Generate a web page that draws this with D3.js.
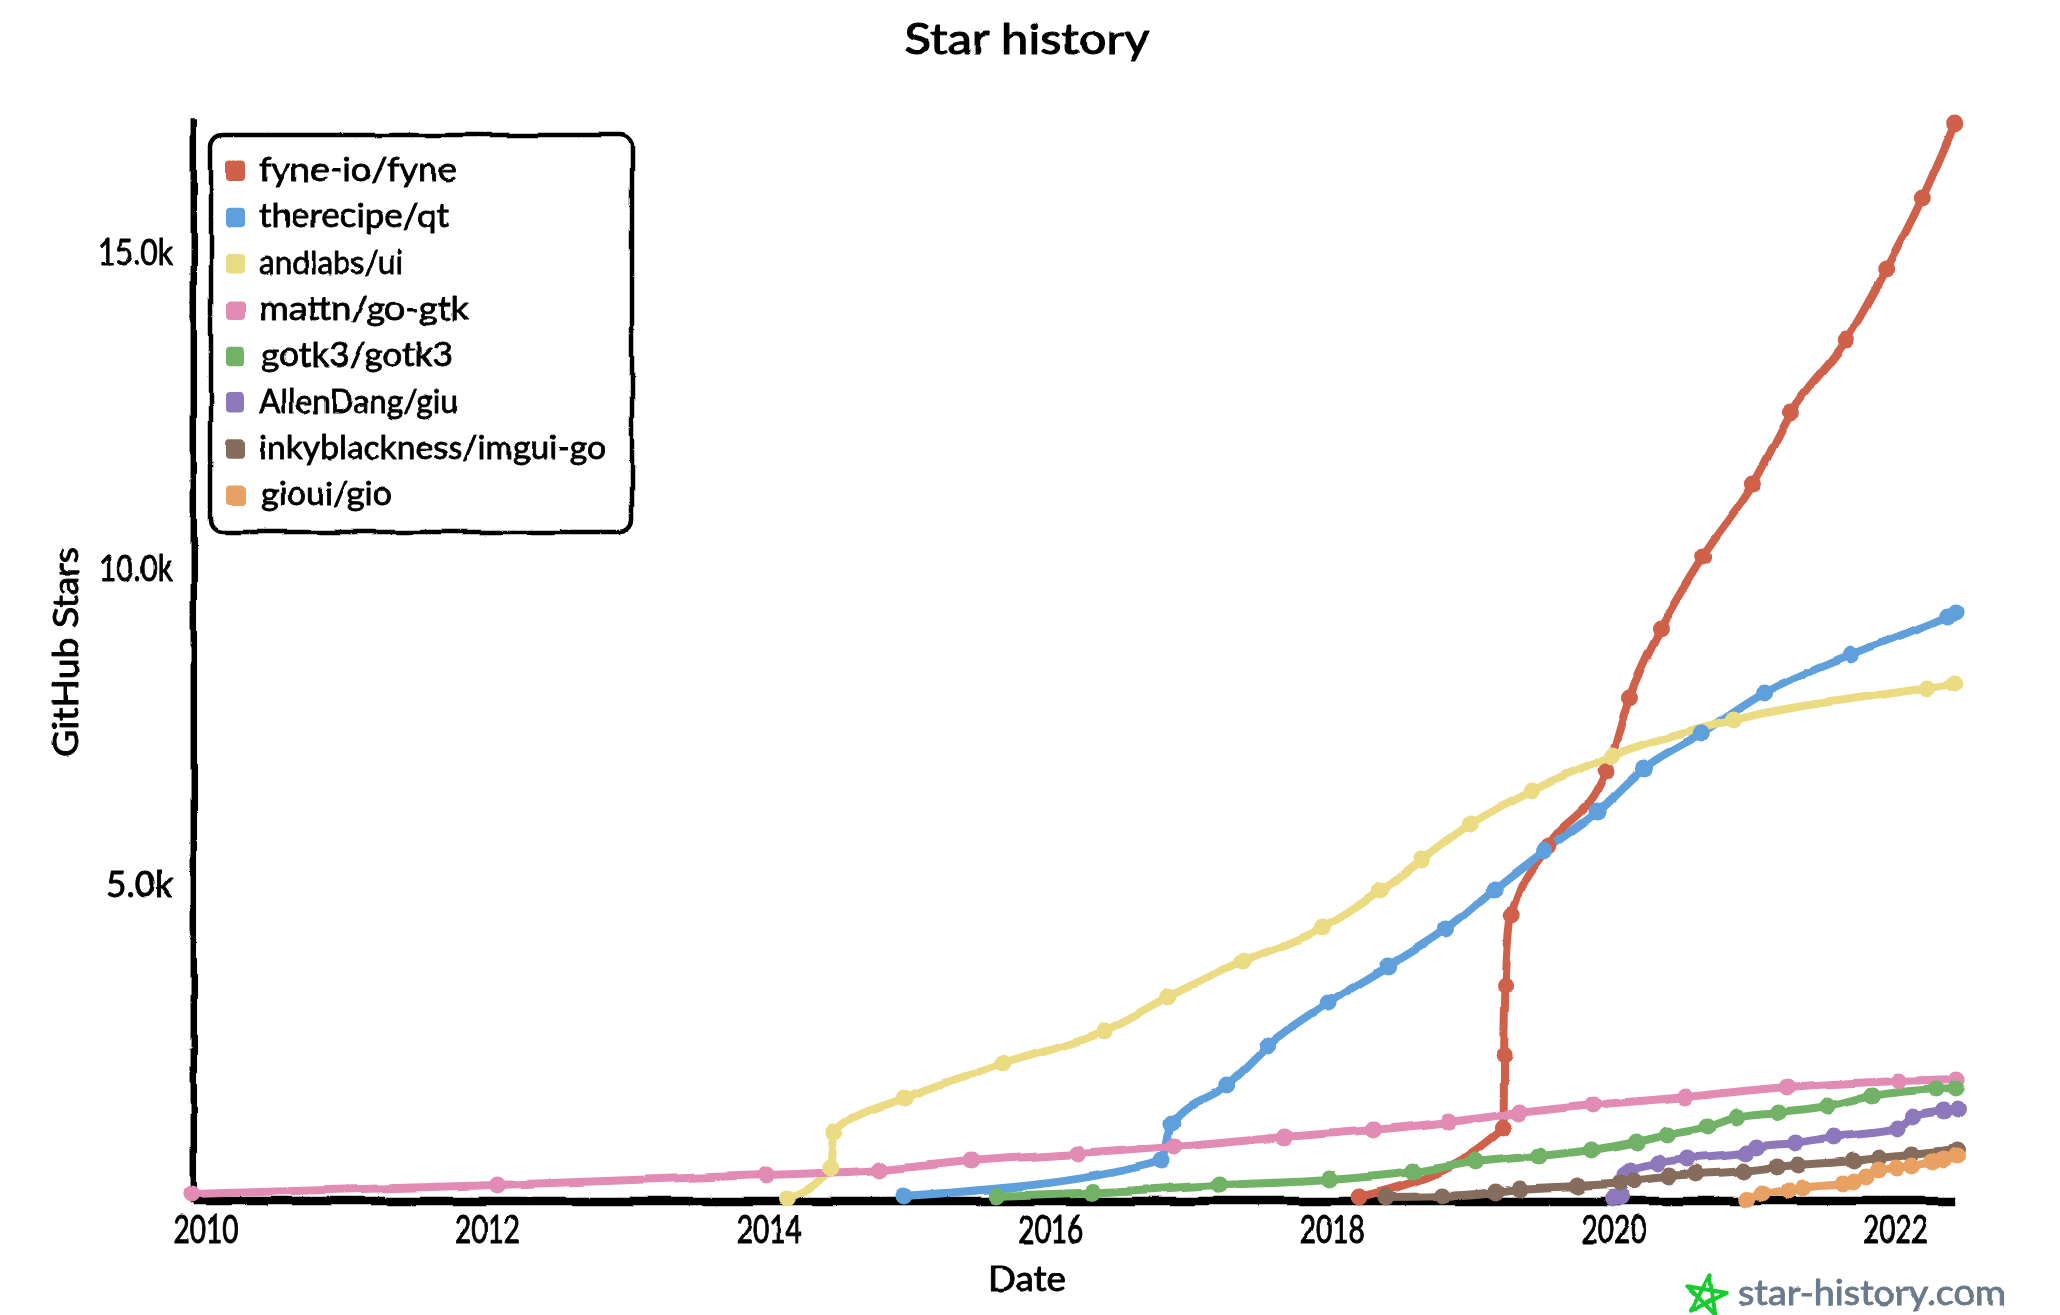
<!DOCTYPE html>
<html>
<head>
<meta charset="utf-8">
<title>Star history</title>
<script src="https://cdn.jsdelivr.net/npm/d3@7/dist/d3.min.js"></script>
<style>
html,body{margin:0;padding:0;background:#fff;}
svg{display:block;}
text{font-family:"Liberation Sans Narrow","Lato","Noto Sans",sans-serif;fill:#000;}
</style>
</head>
<body>
<div id="chart"></div>
<script>
// Data: [decimal year], [stars]
const fyneYears = [2018.19,2019.215,2019.22,2019.23,2019.27,2019.53,2019.95,2020.11,2020.33,2020.63,2020.99,2021.26,2021.65,2021.93,2022.19,2022.42];
const fyneStars = [40,1131,2271,3394,4486,5578,6780,7951,9027,10166,11321,12460,13600,14707,15847,17017];
const qtYears = [2014.95,2016.79,2016.86,2017.25,2017.54,2017.97,2018.40,2018.81,2019.15,2019.50,2019.88,2020.21,2020.62,2021.07,2021.68,2022.37,2022.43];
const qtStars = [55,609,1210,1812,2429,3109,3695,4280,4913,5514,6131,6812,7366,8014,8616,9233,9296];
const uiYears = [2014.13,2014.43,2014.46,2014.96,2015.66,2016.38,2016.83,2017.36,2017.93,2018.34,2018.64,2018.98,2019.42,2019.99,2020.85,2022.23,2022.42];
const uiStars = [24,498,1052,1606,2144,2666,3204,3758,4296,4881,5388,5941,6479,7017,7587,8093,8157];
const gtkYears = [2009.90,2012.07,2013.98,2014.79,2015.44,2016.19,2016.88,2017.66,2018.29,2018.83,2019.33,2019.86,2020.51,2021.23,2022.02,2022.43];
const gtkStars = [87,229,388,467,609,720,831,989,1100,1226,1369,1495,1622,1780,1875,1907];
const gotk3Years = [2015.62,2016.30,2017.20,2017.98,2018.57,2019.01,2019.47,2019.84,2020.16,2020.38,2020.66,2020.87,2021.17,2021.52,2021.83,2022.29,2022.43];
const gotk3Stars = [55,111,229,309,435,593,688,783,910,1021,1147,1305,1384,1479,1638,1748,1764];
const giuYears = [2019.99,2020.06,2020.07,2020.11,2020.31,2020.52,2020.95,2021.02,2021.29,2021.56,2022.01,2022.12,2022.34,2022.44];
const giuStars = [24,40,388,467,578,641,736,831,894,989,1116,1305,1400,1432];
const imguiYears = [2018.38,2018.78,2019.16,2019.34,2019.74,2020.04,2020.14,2020.39,2020.58,2020.93,2021.16,2021.31,2021.70,2021.88,2022.12,2022.44];
const imguiStars = [40,55,119,166,214,261,309,372,403,451,514,546,609,657,704,783];
const gioYears = [2020.95,2021.06,2021.24,2021.34,2021.62,2021.70,2021.79,2021.88,2022.01,2022.12,2022.27,2022.35,2022.44];
const gioStars = [0,87,134,182,245,277,356,467,498,530,593,625,688];

const seriesNames = ["fyne-io/fyne","therecipe/qt","andlabs/ui","mattn/go-gtk","gotk3/gotk3","AllenDang/giu","inkyblackness/imgui-go","gioui/gio"];
const seriesYears = [fyneYears,qtYears,uiYears,gtkYears,gotk3Years,giuYears,imguiYears,gioYears];
const seriesStars = [fyneStars,qtStars,uiStars,gtkStars,gotk3Stars,giuStars,imguiStars,gioStars];
const xTickValues = [2010,2012,2014,2016,2018,2020,2022];
const yTickValues = [5000,10000,15000];
const yTickLabels = ["5.0k","10.0k","15.0k"];

// Presentation
const colors = ["#cf604a","#5f9fdc","#ebdb82","#e28bb5","#72b266","#8e78bc","#866c5c","#e8a063"];
const legendTextWidths = [198,190,144,210,192,199,347,131];
const legendTextOffsets = [0,0,0,0,2,0,0,2];
const W = 2060, H = 1315;

const svg = d3.select("#chart").append("svg").attr("width",W).attr("height",H).attr("viewBox",`0 0 ${W} ${H}`);
const defs = svg.append("defs");
function wobble(id,freq,scale,seed,fineScale){
  const f = defs.append("filter").attr("id",id).attr("filterUnits","userSpaceOnUse")
    .attr("x",0).attr("y",0).attr("width",W).attr("height",H);
  f.append("feTurbulence").attr("type","fractalNoise").attr("baseFrequency",freq).attr("numOctaves",1).attr("seed",seed).attr("result","noise");
  f.append("feDisplacementMap").attr("in","SourceGraphic").attr("in2","noise").attr("scale",scale)
    .attr("xChannelSelector","R").attr("yChannelSelector","G").attr("result","bent");
  if(fineScale){
    f.append("feTurbulence").attr("type","fractalNoise").attr("baseFrequency",0.45).attr("numOctaves",1).attr("seed",seed+1).attr("result","fine");
    f.append("feDisplacementMap").attr("in","bent").attr("in2","fine").attr("scale",fineScale)
      .attr("xChannelSelector","R").attr("yChannelSelector","G");
  }
}
wobble("xkcd",0.022,5.5,3,2);
wobble("hand",0.05,3,7,0);

const x = d3.scaleLinear().domain([2009.91,2022.42]).range([193.3,1954.7]);
const y = d3.scaleLinear().domain([0,17050]).range([1199.5,122]);

function fit(sel,w){ return sel.attr("textLength",w).attr("lengthAdjust","spacingAndGlyphs"); }
function heavy(sel,w){ return sel.attr("stroke","#000").attr("stroke-width",w).attr("stroke-linejoin","round"); }

const plot = svg.append("g").attr("filter","url(#xkcd)");

// Axes
const gx = plot.append("g").attr("transform",`translate(0,${y(0)+1})`)
  .call(d3.axisBottom(x).tickValues(xTickValues).tickFormat(d3.format("d")).tickSize(0).tickSizeOuter(0));
const gy = plot.append("g").attr("transform",`translate(${x.range()[0]},0)`)
  .call(d3.axisLeft(y).tickValues(yTickValues).tickFormat((d,i)=>yTickLabels[i]).tickSize(0).tickSizeOuter(0));
gx.select(".domain").attr("stroke","#000").attr("stroke-width",8.5).attr("stroke-linecap","butt");
gy.select(".domain").attr("stroke","#000").attr("stroke-width",6.5).attr("stroke-linecap","square");
gx.selectAll(".tick text").remove();
gy.selectAll(".tick text").remove();

// Lines then dots
const line = d3.line().x(d=>x(d[0])).y(d=>y(d[1])).curve(d3.curveMonotoneX);
const series = seriesNames.map((name,i)=>({name,color:colors[i],points:d3.zip(seriesYears[i],seriesStars[i])}));
plot.append("g").selectAll("path").data(series).join("path")
  .attr("d",s=>line(s.points)).attr("fill","none").attr("stroke",s=>s.color)
  .attr("stroke-width",8).attr("stroke-linecap","round").attr("stroke-linejoin","round");
plot.append("g").selectAll("g").data(series).join("g").attr("fill",s=>s.color)
  .selectAll("circle").data(s=>s.points).join("circle")
  .attr("cx",d=>x(d[0])).attr("cy",d=>y(d[1])).attr("r",8.5);

// Legend box and swatches
const legendX = 211, legendY = 135, legendW = 421, legendH = 397, legendStep = 46.3, legendFirst = 171;
plot.append("rect").attr("x",legendX).attr("y",legendY).attr("width",legendW).attr("height",legendH)
  .attr("rx",12).attr("ry",12).attr("fill","#fff").attr("stroke","#000").attr("stroke-width",4.5);
plot.append("g").selectAll("rect").data(series).join("rect")
  .attr("x",226).attr("y",(d,i)=>legendFirst+i*legendStep-9.5).attr("width",19).attr("height",19.5)
  .attr("rx",4).attr("fill",s=>s.color);

// Text layer
const txt = svg.append("g").attr("filter","url(#hand)");
heavy(fit(txt.append("text").attr("x",1027).attr("y",54).attr("text-anchor","middle").attr("font-size",42).text("Star history"),245),1.1);
heavy(fit(txt.append("text").attr("x",1027).attr("y",1291).attr("text-anchor","middle").attr("font-size",35).text("Date"),78),0.9);
heavy(fit(txt.append("text").attr("transform","translate(78,652) rotate(-90)").attr("text-anchor","middle").attr("font-size",35).text("GitHub Stars"),210),0.9);
txt.append("g").selectAll("text").data(xTickValues).join("text")
  .attr("x",d=>x(d)).attr("y",1243).attr("text-anchor","middle").attr("font-size",38)
  .text(d3.format("d")).call(fit,65).call(heavy,1);
txt.append("g").selectAll("text").data(yTickValues).join("text")
  .attr("x",173).attr("y",d=>y(d)+13).attr("text-anchor","end").attr("font-size",36)
  .text((d,i)=>yTickLabels[i]).attr("textLength",(d,i)=>[67,74,75][i]).attr("lengthAdjust","spacingAndGlyphs").call(heavy,0.9);
txt.append("g").selectAll("text").data(series).join("text")
  .attr("x",(d,i)=>259+legendTextOffsets[i]).attr("y",(d,i)=>legendFirst+i*legendStep+10).attr("font-size",33)
  .text(s=>s.name).attr("textLength",(d,i)=>legendTextWidths[i]).attr("lengthAdjust","spacingAndGlyphs").call(heavy,0.8);

// Watermark
const starR = 21, starC = [1706,1296], starTilt = 0.17;
const starPts = d3.range(6).map(i=>{const a=-Math.PI/2+starTilt+i*4*Math.PI/5;return [starC[0]+starR*Math.cos(a),starC[1]+starR*Math.sin(a)];});
txt.append("path").attr("d",d3.line()(starPts)+"Z").attr("fill","none").attr("stroke","#16cc2f").attr("stroke-width",4).attr("stroke-linejoin","round");
fit(txt.append("text").attr("x",1738).attr("y",1305).attr("font-size",34).attr("stroke","#6b7a8a").attr("stroke-width",0.9).style("fill","#6b7a8a").text("star-history.com"),268);
</script>
</body>
</html>
